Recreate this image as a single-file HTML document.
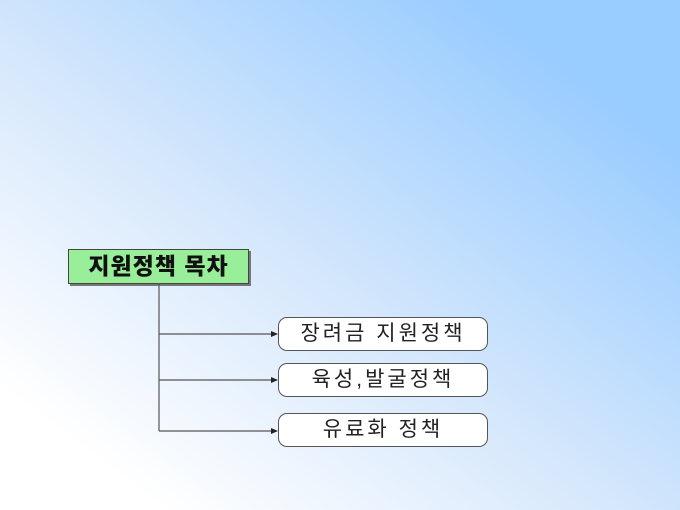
<!DOCTYPE html>
<html><head><meta charset="utf-8"><style>
html,body{margin:0;padding:0}
body{width:680px;height:510px;overflow:hidden;position:relative;
background:linear-gradient(to top right,#ffffff 0%,#ffffff 12%,#d6e8fc 45%,#99ccff 85%);
font-family:"Liberation Sans","Noto Sans CJK KR","NanumGothic",sans-serif}
.g{position:absolute;left:68px;top:249px;width:179px;height:33px;background:#99ee99;border:1px solid #444;
box-shadow:2px 2px 0 #777;font-weight:900;font-size:23px;line-height:33px;text-align:center;color:#111;letter-spacing:1px}
.b{position:absolute;left:278px;width:208px;height:32px;background:#fff;border:1px solid #555;border-radius:9px;
font-size:21px;line-height:32px;text-align:center;color:#222;letter-spacing:3px}
</style></head><body>
<div class="g">지원정책 목차</div>
<svg width="680" height="510" style="position:absolute;left:0;top:0">
<g stroke="#555" stroke-width="1.2" fill="none">
<line x1="159" y1="283" x2="159" y2="431"/>
<line x1="159" y1="334" x2="272" y2="334"/>
<line x1="159" y1="380" x2="272" y2="380"/>
<line x1="159" y1="431" x2="272" y2="431"/>
</g>
<g fill="#222">
<polygon points="278,334 271,331 271,337"/>
<polygon points="278,380 271,377 271,383"/>
<polygon points="278,431 271,428 271,434"/>
</g>
</svg>
<div class="b" style="top:317px">장려금 지원정책</div>
<div class="b" style="top:363px">육성,발굴정책</div>
<div class="b" style="top:413px">유료화 정책</div>
</body></html>
